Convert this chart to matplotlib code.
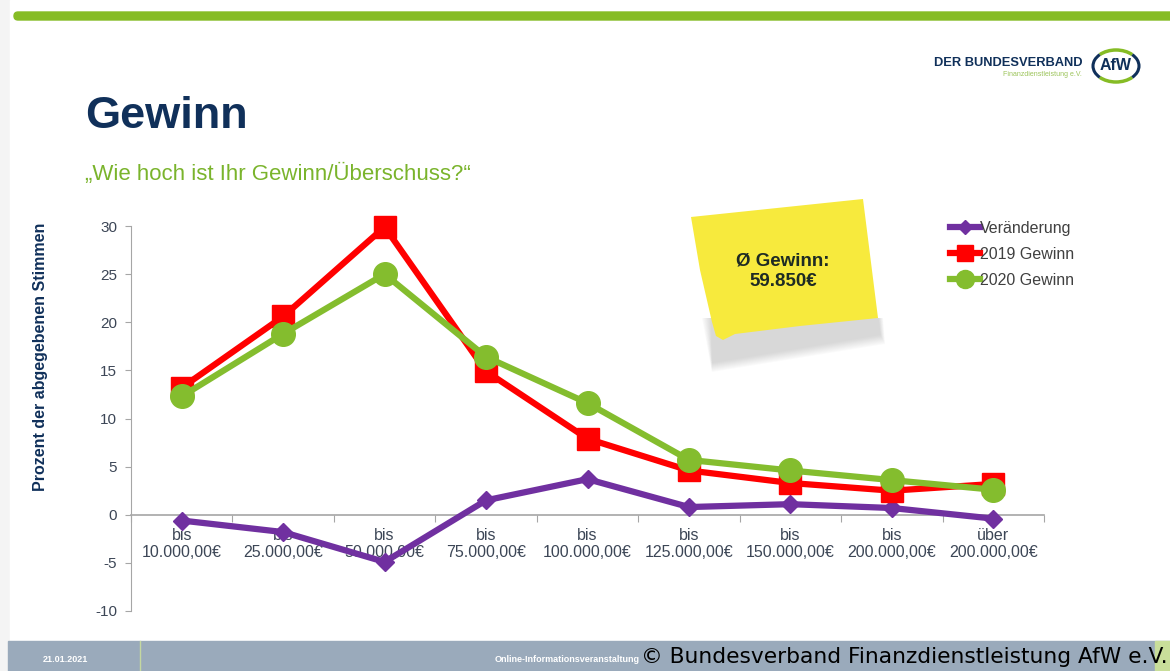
import numpy as np
import matplotlib
matplotlib.use("Agg")
import matplotlib.pyplot as plt
from matplotlib.patches import Rectangle, Polygon, Arc, FancyBboxPatch
from matplotlib.lines import Line2D

plt.rcParams['font.family'] = ['Liberation Sans', 'DejaVu Sans']

# values
categories = ['bis\n10.000,00€', 'bis\n25.000,00€', 'bis\n50.000,00€', 'bis\n75.000,00€',
              'bis\n100.000,00€', 'bis\n125.000,00€', 'bis\n150.000,00€', 'bis\n200.000,00€',
              'über\n200.000,00€']
gewinn_2019 = [13.2, 20.6, 29.9, 14.9, 7.9, 4.6, 3.3, 2.5, 3.2]
gewinn_2020 = [12.3, 18.8, 25.0, 16.4, 11.6, 5.7, 4.6, 3.6, 2.6]
veraenderung = [-0.6, -1.8, -4.9, 1.5, 3.7, 0.8, 1.1, 0.7, -0.4]
y_ticks = [-10, -5, 0, 5, 10, 15, 20, 25, 30]

PURPLE = '#7030a0'
RED = '#ff0000'
GREEN = '#84bd2e'
NAVY = '#10305a'
AXIS_GRAY = '#a6a6a6'
TICK_TXT = '#3c4656'

W, H = 1170, 671
fig = plt.figure(figsize=(W / 100, H / 100), dpi=100)
fig.patch.set_facecolor('white')

# slide decoration in pixel coordinates
bg = fig.add_axes([0, 0, 1, 1])
bg.set_xlim(0, W)
bg.set_ylim(H, 0)
bg.axis('off')
bg.add_patch(Rectangle((0, 0), W, H, color='#f4f4f4', zorder=0))
bg.add_patch(Rectangle((10, 0), W - 10, 641, color='white', zorder=1))
bg.add_patch(FancyBboxPatch((14, 12), W, 8, boxstyle='round,pad=0,rounding_size=4',
                            color='#86bc25', zorder=2))
bg.add_patch(Rectangle((8, 641), W, 30, color='#9aaabb', zorder=2))
bg.add_patch(Rectangle((1155, 641), 15, 30, color='#c9de9a', zorder=3))
bg.plot([140, 140], [641, 671], color='#c5d8a0', lw=1, zorder=3)
bg.text(65, 660, '21.01.2021', color='white', fontsize=6.5, fontweight='bold',
        ha='center', va='center', zorder=4)
bg.text(640, 660, 'Online-Informationsveranstaltung', color='white', fontsize=6.5,
        fontweight='bold', ha='right', va='center', zorder=4)
bg.text(1168, 657, '© Bundesverband Finanzdienstleistung AfW e.V.', color='black',
        fontsize=15.7, family='DejaVu Sans', ha='right', va='center', zorder=5)

# title block
bg.text(85, 116, 'Gewinn', color=NAVY, fontsize=32.5, fontweight='bold', va='center', zorder=4)
bg.text(85, 174, '„Wie hoch ist Ihr Gewinn/Überschuss?“', color='#7ab42c', fontsize=16,
        va='center', zorder=4)

# logo
bg.text(1082, 63, 'DER BUNDESVERBAND', color=NAVY, fontsize=9.3, fontweight='bold',
        ha='right', va='center', zorder=4)
bg.text(1082, 75, 'Finanzdienstleistung e.V.', color='#9cc45a', fontsize=5,
        ha='right', va='center', zorder=4)
bg.add_patch(Arc((1116, 66), 46, 32, theta1=35, theta2=145, ec='#86bc25', lw=2.5, zorder=4))
bg.add_patch(Arc((1116, 66), 46, 32, theta1=215, theta2=325, ec='#86bc25', lw=2.5, zorder=4))
bg.add_patch(Arc((1116, 66), 46, 32, theta1=145, theta2=215, ec=NAVY, lw=2.2, zorder=4))
bg.add_patch(Arc((1116, 66), 46, 32, theta1=-35, theta2=35, ec=NAVY, lw=2.2, zorder=4))
bg.text(1116, 66, 'AfW', color=NAVY, fontsize=11.5, fontweight='bold', ha='center',
        va='center', zorder=5)

# sticky note with a soft shadow
for k in range(10):
    grow = 10 - k
    bg.add_patch(Polygon([[712 - grow, 318], [878 + grow * 0.5, 318], [880 + grow * 0.5, 334 + grow],
                          [712, 362 + grow]], closed=True, color='#8a8a8a', alpha=0.035,
                         lw=0, zorder=2))
note_x = [691, 863, 878, 800, 735, 723, 716, 712, 700]
note_y = [217, 199, 318, 326, 334, 340, 336, 322, 270]
bg.add_patch(Polygon(np.column_stack([note_x, note_y]), closed=True, color='#f7ea3d',
                     lw=0, zorder=3))
bg.text(783, 271, 'Ø Gewinn:\n59.850€', color='#1e2b24', fontsize=13.5, fontweight='bold',
        ha='center', va='center', linespacing=1.3, zorder=4)

# chart
ax = fig.add_axes([131 / W, 1 - 611 / H, (1044 - 131) / W, (611 - 226) / H])
ax.patch.set_alpha(0)
x = np.arange(len(categories))
ax.plot(x, veraenderung, color=PURPLE, lw=4.5, marker='D', ms=9, zorder=3, clip_on=False)
ax.plot(x, gewinn_2019, color=RED, lw=4.5, marker='s', ms=16, zorder=4, clip_on=False)
ax.plot(x, gewinn_2020, color=GREEN, lw=4.5, marker='o', ms=17, zorder=5, clip_on=False)

ax.set_xlim(-0.5, len(categories) - 0.5)
ax.set_ylim(-10, 30)
ax.set_yticks(y_ticks)
ax.set_yticklabels([str(v) for v in y_ticks], color=TICK_TXT, fontsize=11)
ax.tick_params(axis='y', length=4, color=AXIS_GRAY, pad=6)

ax.spines['top'].set_visible(False)
ax.spines['right'].set_visible(False)
ax.spines['left'].set_color(AXIS_GRAY)
ax.spines['bottom'].set_position(('data', 0))
ax.spines['bottom'].set_color(AXIS_GRAY)
ax.spines['bottom'].set_linewidth(1.2)

ax.set_xticks(np.arange(len(categories) + 1) - 0.5)
ax.set_xticklabels([])
ax.tick_params(axis='x', length=5, color=AXIS_GRAY, direction='out')
for i, lab in enumerate(categories):
    ax.text(i, -1.4, lab, ha='center', va='top', color=TICK_TXT, fontsize=11.5,
            linespacing=1.12, zorder=2)

fig.text(40 / W, 1 - 357 / H, 'Prozent der abgegebenen Stimmen', rotation=90,
         color=NAVY, fontsize=11.5, fontweight='bold', ha='center', va='center')

handles = [Line2D([], [], color=PURPLE, lw=4.5, marker='D', ms=7),
           Line2D([], [], color=RED, lw=4.5, marker='s', ms=12),
           Line2D([], [], color=GREEN, lw=4.5, marker='o', ms=13)]
fig.legend(handles, ['Veränderung', '2019 Gewinn', '2020 Gewinn'],
           loc='upper left', bbox_to_anchor=(942 / W, 1 - 213 / H), frameon=False,
           fontsize=11.5, handlelength=1.9, handletextpad=0.0, labelspacing=0.68,
           labelcolor='#404040', borderpad=0)

fig.savefig('out.png', dpi=100, facecolor=fig.get_facecolor())
